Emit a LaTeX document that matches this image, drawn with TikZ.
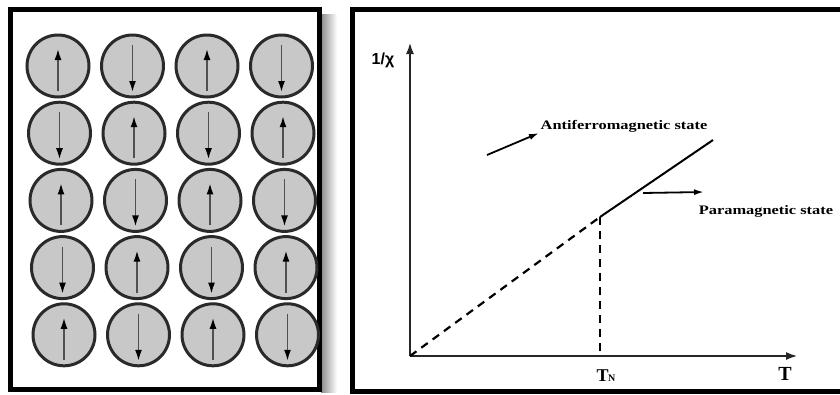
\documentclass[tikz,border=0pt]{standalone}
\usepackage{fontspec}
\setmainfont{Liberation Serif}
\newfontfamily\lsans{Liberation Sans}
\usetikzlibrary{arrows.meta,calc}
\definecolor{spinfill}{HTML}{C8C8C8}
\definecolor{spinrim}{HTML}{2A2A2A}
\definecolor{shaft}{HTML}{505050}
\begin{document}
\begin{tikzpicture}[x=1pt,y=-1pt,
  frame/.style={line width=5pt,draw=black},
  spin/.style={circle,minimum size=62pt,inner sep=0pt,fill=spinfill,draw=spinrim,line width=3pt},
  spinarrow/.style={draw=shaft,line width=1.6pt,-{Latex[length=11pt,width=7pt,color=black]}},
  axisline/.style={line width=2.4pt,draw=black!85,-{Latex[length=12pt,width=8pt]}},
  curve/.style={line width=2pt,draw=black},
  dashcurve/.style={line width=2.2pt,draw=black,dash pattern=on 8pt off 6pt},
  pointer/.style={line width=1.8pt,draw=black,-{Latex[length=10pt,width=6pt]}},
  lab/.style={inner sep=0pt,font=\fontsize{13}{13}\selectfont\bfseries}]
\useasboundingbox (0,0) rectangle (840,394);
% left panel
\shade[left color=black!45,right color=white] (321,14) rectangle (337,392);
\draw[frame] (10,9) rectangle (319.5,389.5);
\foreach \r in {0,...,4}{
  \foreach \c in {0,...,3}{
    \pgfmathsetmacro\xx{58+74.5*\c+1.5*\r}
    \pgfmathsetmacro\yy{66+67.2*\r}
    \node[spin] (s\r\c) at (\xx,\yy) {};
    \pgfmathparse{int(mod(\r+\c,2))}
    \ifnum\pgfmathresult=0
      \draw[spinarrow] ($(s\r\c)+(0,25)$) -- ($(s\r\c)+(0,-17)$);
    \else
      \draw[spinarrow] ($(s\r\c)+(0,-21)$) -- ($(s\r\c)+(0,26)$);
    \fi
  }
}
% right panel
\draw[frame] (850,9) -- (352,9) -- (352,391.5) -- (850,391.5);
\coordinate (O) at (410,356);
\coordinate (Ytop) at (410,42);
\coordinate (Xend) at (798,356);
\coordinate (TN) at (600,217);
\coordinate (TNb) at (600,356);
\coordinate (E) at (713,140);
\draw[axisline] (O) -- (Ytop);
\draw[axisline] (O) -- (Xend);
\draw[dashcurve] (O) -- (TN);
\draw[dashcurve] (TN) -- (TNb);
\draw[curve] (TN) -- (E);
\node[inner sep=0pt,font=\lsans\fontsize{16}{16}\selectfont\bfseries] (ylab) at (383,60) {1/χ};
\node[lab] (afm) at (624,126) {\scalebox{1.26}[1]{Antiferromagnetic state}};
\node[lab] (pm) at (766,211) {\scalebox{1.26}[1]{Paramagnetic state}};
\coordinate (a1) at (487,155);
\coordinate (a2) at (539,133);
\coordinate (p1) at (643,193);
\coordinate (p2) at (704,192);
\draw[pointer] (a1) -- (a2);
\draw[pointer] (p1) -- (p2);
\node[inner sep=0pt,font=\fontsize{18}{18}\selectfont\bfseries] (tn) at (606,376) {T\kern-0.5pt{\fontsize{10}{10}\selectfont N}};
\node[inner sep=0pt,font=\fontsize{20}{20}\selectfont\bfseries] (tl) at (785,374) {T};
\end{tikzpicture}
\end{document}
